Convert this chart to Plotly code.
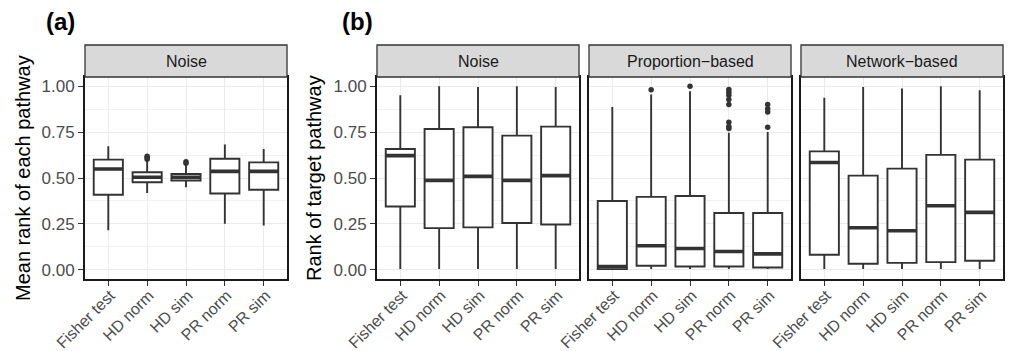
import plotly.graph_objects as go

categories = ["Fisher test", "HD norm", "HD sim", "PR norm", "PR sim"]

# Panel (a): Noise, mean rank of each pathway
a_low = [0.215, 0.418, 0.449, 0.251, 0.242]
a_q1 = [0.409, 0.477, 0.486, 0.416, 0.436]
a_med = [0.549, 0.504, 0.504, 0.536, 0.536]
a_q3 = [0.600, 0.531, 0.522, 0.605, 0.585]
a_up = [0.673, 0.592, 0.573, 0.682, 0.658]
a_out_x = ["HD norm", "HD norm", "HD norm", "HD sim", "HD sim"]
a_out_y = [0.602, 0.612, 0.618, 0.580, 0.588]

# Panel (b): Noise
bn_low = [0.005, 0.005, 0.005, 0.005, 0.005]
bn_q1 = [0.345, 0.227, 0.231, 0.255, 0.247]
bn_med = [0.622, 0.487, 0.509, 0.487, 0.513]
bn_q3 = [0.658, 0.767, 0.776, 0.731, 0.780]
bn_up = [0.951, 1.000, 0.996, 1.000, 0.996]

# Panel (b): Proportion-based
bp_low = [0.000, 0.005, 0.005, 0.005, 0.005]
bp_q1 = [0.004, 0.022, 0.018, 0.018, 0.013]
bp_med = [0.018, 0.131, 0.116, 0.100, 0.087]
bp_q3 = [0.375, 0.397, 0.402, 0.309, 0.309]
bp_up = [0.887, 0.955, 0.973, 0.746, 0.751]
bp_out_x = ["HD norm", "HD sim",
            "PR norm", "PR norm", "PR norm", "PR norm", "PR norm",
            "PR norm", "PR norm", "PR norm",
            "PR sim", "PR sim", "PR sim", "PR sim"]
bp_out_y = [0.980, 1.000,
            0.982, 0.967, 0.951, 0.927, 0.900, 0.804, 0.780, 0.770,
            0.900, 0.877, 0.860, 0.776]

# Panel (b): Network-based
bw_low = [0.005, 0.005, 0.005, 0.005, 0.005]
bw_q1 = [0.082, 0.033, 0.038, 0.042, 0.049]
bw_med = [0.584, 0.229, 0.213, 0.349, 0.313]
bw_q3 = [0.645, 0.513, 0.551, 0.626, 0.600]
bw_up = [0.937, 0.996, 0.987, 1.000, 0.978]

strip_labels = ["Noise", "Noise", "Proportion\u2212based", "Network\u2212based"]
y_ticks = [0.0, 0.25, 0.5, 0.75, 1.0]
y_minor = [0.125, 0.375, 0.625, 0.875]

W, H = 1011, 351
FONT = "Liberation Sans, Arial, Helvetica, sans-serif"
DARK = "#333333"

panels = [
    dict(low=a_low, q1=a_q1, med=a_med, q3=a_q3, up=a_up, ox=a_out_x, oy=a_out_y),
    dict(low=bn_low, q1=bn_q1, med=bn_med, q3=bn_q3, up=bn_up, ox=[], oy=[]),
    dict(low=bp_low, q1=bp_q1, med=bp_med, q3=bp_q3, up=bp_up, ox=bp_out_x, oy=bp_out_y),
    dict(low=bw_low, q1=bw_q1, med=bw_med, q3=bw_q3, up=bw_up, ox=[], oy=[]),
]

# pixel layout
x_px = [(85, 287), (377, 579), (589, 791), (801, 1003)]
plot_top, plot_bot = 77, 279
strip_top = 45

def px_x(p):
    return p / W

def px_y(p):
    return (H - p) / H

fig = go.Figure()

for i, p in enumerate(panels):
    suf = "" if i == 0 else str(i + 1)
    xa, ya = "x" + suf, "y" + suf
    fig.add_trace(go.Box(
        x=categories, q1=p["q1"], median=p["med"], q3=p["q3"],
        lowerfence=p["low"], upperfence=p["up"],
        boxpoints=False, width=0.75, whiskerwidth=0,
        fillcolor="white", line=dict(color=DARK, width=1.9),
        xaxis=xa, yaxis=ya, showlegend=False, hoverinfo="skip"))
    # thick median lines (ggplot fatten)
    fig.add_trace(go.Box(
        x=categories, q1=p["med"], median=p["med"], q3=p["med"],
        lowerfence=p["med"], upperfence=p["med"],
        boxpoints=False, width=0.75, whiskerwidth=0,
        fillcolor="rgba(0,0,0,0)", line=dict(color=DARK, width=3.6),
        xaxis=xa, yaxis=ya, showlegend=False, hoverinfo="skip"))
    if p["ox"]:
        fig.add_trace(go.Scatter(
            x=p["ox"], y=p["oy"], mode="markers",
            marker=dict(color=DARK, size=5.5),
            xaxis=xa, yaxis=ya, showlegend=False, hoverinfo="skip"))

layout = dict(
    width=W, height=H, autosize=False,
    margin=dict(l=0, r=0, t=0, b=0),
    paper_bgcolor="white", plot_bgcolor="white",
    font=dict(family=FONT, color="#4D4D4D"),
    boxmode="overlay",
)

shapes = []
annotations = []
for i, (x0, x1) in enumerate(x_px):
    suf = "" if i == 0 else str(i + 1)
    xkey = "xaxis" + suf
    ykey = "yaxis" + suf
    show_y = i in (0, 1)
    layout[xkey] = dict(
        domain=[px_x(x0), px_x(x1)], anchor="y" + suf, automargin=False,
        type="category", categoryorder="array", categoryarray=categories,
        range=[-0.6, 4.6], showgrid=True, gridcolor="#EBEBEB", gridwidth=1.2,
        showline=True, linecolor="#1a1a1a", linewidth=1.8, mirror=True,
        ticks="outside", ticklen=5, tickwidth=1.3, tickcolor=DARK,
        tickangle=-45, ticklabelshift=2, ticklabelstandoff=-6,
        tickfont=dict(size=16, color="#4D4D4D", family=FONT),
        zeroline=False, fixedrange=True,
    )
    layout[ykey] = dict(
        domain=[px_y(plot_bot), px_y(plot_top)], anchor="x" + suf, automargin=False,
        range=[-0.05, 1.05], tickmode="array", tickvals=y_ticks,
        ticktext=["%.2f" % v for v in y_ticks],
        showticklabels=show_y, ticks="outside" if show_y else "",
        ticklen=5, tickwidth=1.3, tickcolor=DARK,
        tickfont=dict(size=17, color="#4D4D4D", family=FONT),
        showgrid=True, gridcolor="#EBEBEB", gridwidth=1.2,
        minor=dict(tickmode="array", tickvals=y_minor, showgrid=True,
                   gridcolor="#F2F2F2", gridwidth=0.7, ticks=""),
        showline=True, linecolor="#1a1a1a", linewidth=1.8, mirror=True,
        zeroline=False, fixedrange=True,
    )
    # strip
    shapes.append(dict(type="rect", xref="paper", yref="paper",
                       x0=px_x(x0), x1=px_x(x1), y0=px_y(plot_top), y1=px_y(strip_top),
                       fillcolor="#D9D9D9", line=dict(color=DARK, width=1.3), layer="above"))
    annotations.append(dict(text=strip_labels[i], xref="paper", yref="paper",
                            x=px_x((x0 + x1) / 2), y=px_y((plot_top + strip_top) / 2),
                            xanchor="center", yanchor="middle", showarrow=False,
                            font=dict(size=16, color="#1A1A1A", family=FONT)))

# axis titles
annotations.append(dict(text="Mean rank of each pathway", xref="paper", yref="paper",
                        x=px_x(23), y=px_y((plot_top + plot_bot) / 2), textangle=-90,
                        xanchor="center", yanchor="middle", showarrow=False,
                        font=dict(size=20, color="black", family=FONT)))
annotations.append(dict(text="Rank of target pathway", xref="paper", yref="paper",
                        x=px_x(314), y=px_y((plot_top + plot_bot) / 2), textangle=-90,
                        xanchor="center", yanchor="middle", showarrow=False,
                        font=dict(size=20, color="black", family=FONT)))
# panel tags
annotations.append(dict(text="<b>(a)</b>", xref="paper", yref="paper",
                        x=px_x(60), y=px_y(21), xanchor="center", yanchor="middle",
                        showarrow=False, font=dict(size=24, color="black", family=FONT)))
annotations.append(dict(text="<b>(b)</b>", xref="paper", yref="paper",
                        x=px_x(357), y=px_y(21), xanchor="center", yanchor="middle",
                        showarrow=False, font=dict(size=24, color="black", family=FONT)))

layout["shapes"] = shapes
layout["annotations"] = annotations
fig.update_layout(**layout)

fig.write_html("out.html", config={"displayModeBar": False},
               post_script="document.body.style.margin='0';document.body.style.overflow='hidden';")
